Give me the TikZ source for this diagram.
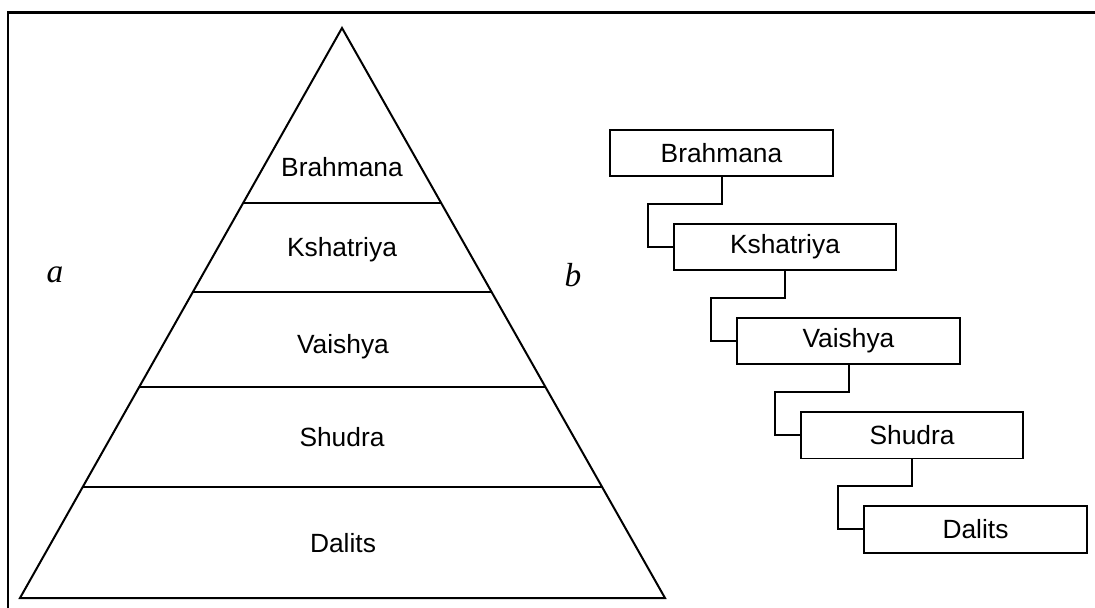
\documentclass[tikz,border=0pt]{standalone}
\usepackage{fontspec}
\setmainfont{Liberation Sans}
\newfontfamily\letterfont{Liberation Serif}
\usetikzlibrary{calc}
\begin{document}
\begin{tikzpicture}[x=0.02cm, y=-0.02cm, every node/.style = {align=center, font=\fontsize{15}{17}\selectfont}, line width=0.4mm]
	\tikzstyle{box} = [draw, rectangle, minimum width=4.46cm, minimum height=0.94cm, inner sep=0pt]
	\tikzstyle{layer} = [inner sep=2pt]
	\tikzstyle{part} = [font=\fontsize{19}{22}\selectfont\letterfont\itshape]
	\useasboundingbox (0,0) rectangle (1095,608);
	\draw[line width=0.6mm] (8,608) -- (8,13) -- (1095,13);
	% pyramid
	\coordinate (apex) at (342,28);
	\coordinate (bl) at (20,598);
	\coordinate (br) at (665,598);
	\draw (bl) -- (apex) -- (br) -- cycle;
	\foreach \t in {0.307,0.463,0.630,0.805}
		\draw ($(apex)!\t!(bl)$) -- ($(apex)!\t!(br)$);
	\node[layer] (lbrahmana) at (342,167) {Brahmana};
	\node[layer] (lkshatriya) at (342,250) {Kshatriya};
	\node[layer] (lvaishya) at (343,347) {Vaishya};
	\node[layer] (lshudra) at (342,437) {Shudra};
	\node[layer] (ldalits) at (343,543) {Dalits};
	\node[part] (a) at (55,275) {a};
	\node[part] (b) at (573,275) {b};
	% ladder
	\foreach \name/\txt [count=\i from 0] in {brahmana/Brahmana, kshatriya/Kshatriya, vaishya/Vaishya, shudra/Shudra, dalits/Dalits}
		\node[box] (\name) at ({721.5+63.5*\i},{153+94*\i}) {\txt};
	\foreach \up/\low in {brahmana/kshatriya, kshatriya/vaishya, vaishya/shudra, shudra/dalits}
		\draw (\up.south) -- ++(0,-0.54cm) -| ([xshift=-0.5cm]\low.west) -- (\low.west);
\end{tikzpicture}
\end{document}
